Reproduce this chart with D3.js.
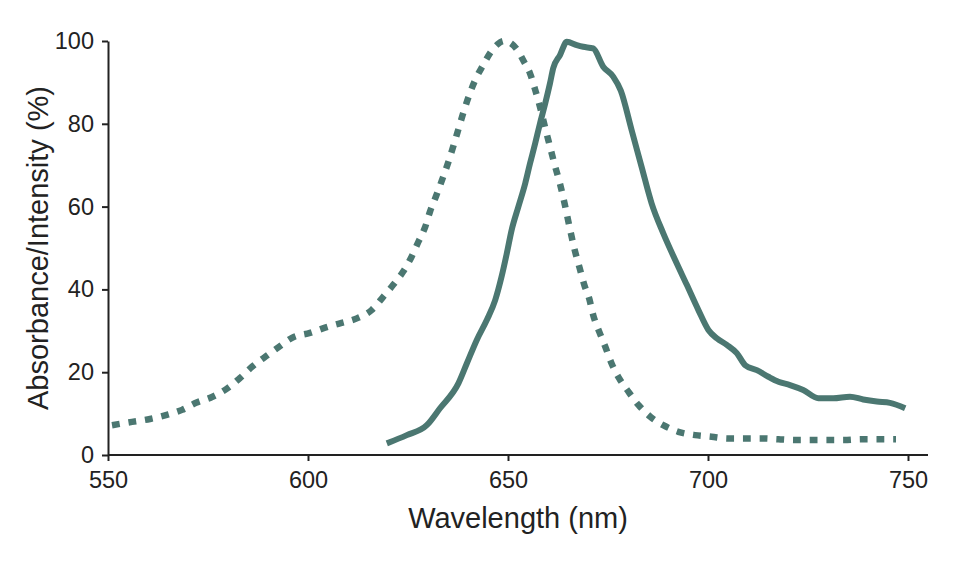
<!DOCTYPE html>
<html>
<head>
<meta charset="utf-8">
<script src="https://cdn.jsdelivr.net/npm/d3@7"></script>
<style>
  body { margin: 0; background: #fff; }
  text { font-family: "Liberation Sans", Arial, Helvetica, sans-serif; fill: #222; }
</style>
</head>
<body>
<svg id="container" width="975" height="564"></svg>
<script>
// absorbance spectrum (dotted)
const absWl = [551, 556, 560.5, 564.7, 568.5, 572, 576, 580, 583, 586, 590, 593, 596, 600.5, 605, 608, 612.2, 615.9, 618.8, 621.3, 623.8, 625.9, 627.6, 629.3, 630.5, 632, 633.5, 635, 636.4, 637.7, 639, 640.4, 642, 643.8, 645.6, 647.4, 649, 650.8, 652.5, 654, 655.5, 656.8, 658, 659.3, 660.5, 661.7, 663, 664.2, 665.4, 666.6, 667.9, 669.1, 670.3, 671.3, 672.8, 674.3, 675.9, 677.8, 680.1, 682.6, 685.5, 688.8, 692.6, 696.8, 700.9, 705, 709, 713.4, 717.6, 721.8, 726, 730, 734, 738.4, 742.6, 747]
const absVal = [7.2, 8.0, 8.7, 9.7, 10.9, 12.6, 14.0, 16.2, 18.6, 21.3, 24.2, 26.3, 28.3, 29.5, 31.0, 31.8, 33.0, 35.0, 38.2, 41.1, 44.3, 47.9, 51.5, 55.1, 58.8, 62.5, 66.4, 70.5, 74.8, 79.0, 83.2, 87.2, 91.0, 94.2, 97.2, 99.2, 100, 99.4, 97.6, 95.0, 92.2, 88.2, 84.1, 79.0, 74.5, 70.0, 65.5, 60.5, 55.0, 49.8, 45.2, 41.0, 37.8, 33.8, 29.8, 26.2, 22.1, 18.5, 15.3, 12.1, 9.3, 7.2, 5.6, 4.8, 4.4, 4.0, 4.0, 4.0, 3.8, 3.6, 3.6, 3.6, 3.6, 3.8, 3.8, 3.8]

// emission spectrum (solid)
const emWl = [619.7, 624.7, 629.7, 633, 637.6, 639.7, 642.2, 644.7, 646.8, 648.4, 649.7, 650.9, 652.6, 654.3, 655.5, 656.8, 658, 659.3, 660.5, 661.3, 663, 664.7, 667.2, 668.8, 671.3, 673.8, 676.3, 678.2, 680.9, 683.4, 685.9, 688.8, 691.8, 694.7, 697.6, 700.1, 702.2, 704.7, 707.2, 709.3, 712.2, 715.1, 717.6, 720.5, 723.8, 727.6, 731.3, 735.5, 738.8, 742.2, 745.5, 749.3]
const emVal = [2.8, 4.8, 7.2, 11.3, 17.3, 22.1, 27.8, 32.6, 37.4, 43.1, 48.7, 54.3, 60.0, 65.6, 70.4, 75.3, 80.1, 84.9, 89.8, 93.4, 96.6, 99.8, 99.0, 98.6, 98.2, 93.8, 91.4, 88.0, 78.5, 69.6, 60.8, 53.6, 47.1, 41.1, 35.0, 30.2, 28.2, 26.6, 24.6, 21.7, 20.5, 18.9, 17.7, 16.9, 15.7, 13.7, 13.7, 14.1, 13.4, 12.9, 12.6, 11.3]

const xTicks = [550, 600, 650, 700, 750]
const yTicks = [0, 20, 40, 60, 80, 100]

const svg = d3.select('#container')
const color = '#4b7771'

const xScale = d3.scaleLinear().domain([550, 750]).range([108, 908])
const yScale = d3.scaleLinear().domain([0, 100]).range([455, 41])

const toPoints = (wl, val) => wl.map((w, i) => [w, val[i]])

const line = d3.line()
  .x((d) => xScale(d[0]))
  .y((d) => yScale(d[1]))
  .curve(d3.curveMonotoneX)

svg.append('path')
  .datum(toPoints(absWl, absVal))
  .attr('d', line)
  .attr('fill', 'none')
  .attr('stroke', color)
  .attr('stroke-width', 6.5)
  .attr('stroke-dasharray', '7.8,8.9')

svg.append('path')
  .datum(toPoints(emWl, emVal))
  .attr('d', line)
  .attr('fill', 'none')
  .attr('stroke', color)
  .attr('stroke-width', 6)
  .attr('stroke-linejoin', 'round')

const xAxis = d3.axisBottom(xScale).tickValues(xTicks).tickSize(6).tickSizeOuter(0).tickPadding(10)
const yAxis = d3.axisLeft(yScale).tickValues(yTicks).tickSize(6).tickSizeOuter(0).tickPadding(8)

const xG = svg.append('g')
  .attr('transform', 'translate(0,455)')
  .call(xAxis)
xG.select('.domain').attr('d', 'M108,0H928')

const yG = svg.append('g')
  .attr('transform', 'translate(108,0)')
  .call(yAxis)

svg.selectAll('.domain, .tick line').attr('stroke', '#222').attr('stroke-width', 2)
svg.selectAll('.tick text').style('font-size', '23.5px').attr('fill', '#222')
  .style('font-family', '"Liberation Sans", Arial, sans-serif')

svg.append('text')
  .attr('x', 518)
  .attr('y', 528)
  .attr('text-anchor', 'middle')
  .style('font-size', '29px')
  .text('Wavelength (nm)')

svg.append('text')
  .attr('transform', 'translate(48,248) rotate(-90)')
  .attr('text-anchor', 'middle')
  .style('font-size', '29px')
  .text('Absorbance/Intensity (%)')
</script>
</body>
</html>
